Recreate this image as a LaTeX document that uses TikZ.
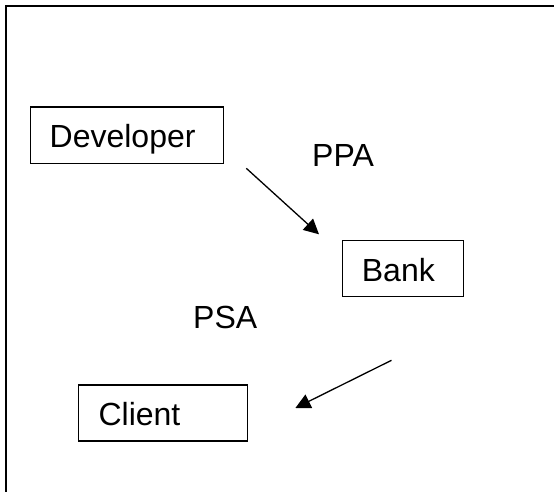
\documentclass[tikz,border=0pt]{standalone}
\usepackage{fontspec}
\setmainfont{Liberation Sans}
\usetikzlibrary{arrows.meta}
\tikzset{
  boxnode/.style={draw=black, line width=1.3pt, inner sep=0pt, minimum width=#1},
  lbl/.style={anchor=base west, inner sep=0pt, font=\fontsize{32}{38}\selectfont},
  arrowline/.style={draw=black, line width=1.3pt, -{Triangle[length=15pt, width=15pt]}},
  framestyle/.style={draw=black, line width=2pt}
}
\begin{document}
\begin{tikzpicture}[x=1pt, y=-1pt]
\useasboundingbox (0,0) rectangle (554,492);
% frame (only top and left visible)
\coordinate (ftr) at (560,6);
\coordinate (ftl) at (6.4,6);
\coordinate (fbl) at (6.4,500);
\draw[framestyle] (ftr) -- (ftl) -- (fbl);
% boxes
\node[boxnode=192.6pt, minimum height=56.3pt] (devbox) at (127,135.15) {};
\node[boxnode=120.9pt, minimum height=56.4pt] (bankbox) at (402.85,268.5) {};
\node[boxnode=168.9pt, minimum height=56pt] (clientbox) at (162.85,413) {};
% labels
\node[lbl] (devlbl) at (49.5,148) {Developer};
\node[lbl] (banklbl) at (361.7,281) {Bank};
\node[lbl] (clientlbl) at (98.4,425) {Client};
\node[lbl] (ppa) at (312,166) {PPA};
\node[lbl] (psa) at (193,328.3) {PSA};
% arrows
\coordinate (a1s) at (246.3,168.3);
\coordinate (a1e) at (319,234.3);
\coordinate (a2s) at (391.5,360.3);
\coordinate (a2e) at (295.4,408);
\draw[arrowline] (a1s) -- (a1e);
\draw[arrowline] (a2s) -- (a2e);
\end{tikzpicture}
\end{document}
